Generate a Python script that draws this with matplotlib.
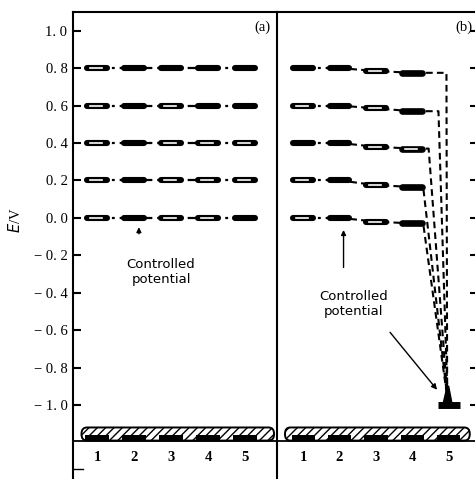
import matplotlib
matplotlib.use("Agg")
import matplotlib.pyplot as plt
from matplotlib.patches import FancyBboxPatch, Rectangle
import numpy as np

# ---- data ----
electrodes = [1, 2, 3, 4, 5]
levels = [0.8, 0.6, 0.4, 0.2, 0.0]
# panel (a): every electrode holds its level
a_values = [[v] * 5 for v in levels]
# panel (b): electrode 5 controlled at -1.0 V
b_e3 = [0.785, 0.585, 0.38, 0.175, -0.02]
b_e4 = [0.775, 0.57, 0.37, 0.165, -0.03]
b_e5 = [-1.0, -1.0, -1.0, -1.0, -1.0]
b_turn_x = [4.94, 4.72, 4.45, 4.3, 4.3]
b_end_x = [4.96, 4.97, 4.97, 4.97, 4.97]
b_end_y = [-0.97, -0.97, -0.97, -0.97, -0.97]
yticks = [1.0, 0.8, 0.6, 0.4, 0.2, 0.0, -0.2, -0.4, -0.6, -0.8, -1.0]
ytick_labels = ["1. 0", "0. 8", "0. 6", "0. 4", "0. 2", "0. 0",
                "\u2212 0. 2", "\u2212 0. 4", "\u2212 0. 6", "\u2212 0. 8", "\u2212 1. 0"]
hollow_a = [[1, 0, 0, 0, 0], [1, 0, 1, 0, 0], [1, 0, 1, 1, 1],
            [1, 0, 1, 1, 1], [1, 0, 1, 1, 0]]
hollow_b = [[0, 0, 1, 0], [1, 0, 1, 0], [0, 0, 1, 1], [1, 0, 1, 0], [1, 0, 1, 0]]

W, H = 475, 479
fig = plt.figure(figsize=(W / 100, H / 100), dpi=100)
serif = ["Liberation Serif", "DejaVu Serif"]

top_px, bot_px = 12, 478
ylo, yhi = -1.39, 1.10
ax1 = fig.add_axes([73 / W, 1 - bot_px / H, (277 - 73) / W, (bot_px - top_px) / H])
ax2 = fig.add_axes([277 / W, 1 - bot_px / H, (477 - 277) / W, (bot_px - top_px) / H])
ax1.set_xlim(0.35, 5.86)
ax2.set_xlim(0.28, 5.78)
base_y = -1.19
for ax in (ax1, ax2):
    ax.set_ylim(ylo, yhi)
    ax.set_xticks([])
    ax.spines["bottom"].set_visible(False)
    for s in ("left", "right", "top"):
        ax.spines[s].set_linewidth(1.5)
    ax.patch.set_alpha(0)

ax1.spines["right"].set_visible(False)
ax1.set_yticks(yticks)
ax1.set_yticklabels(ytick_labels, fontfamily=serif, fontsize=10.5)
ax1.tick_params(axis="y", direction="in", length=6, width=1.5, pad=4)
ax1.set_ylabel(r"$E$/V", fontfamily=serif, fontsize=10.5)
ax1.yaxis.set_label_coords(-0.245, 0.554)
ax1.plot([0, 0.05], [-1.342, -1.342], color="black", lw=1.0, transform=ax1.get_yaxis_transform())

ax2.set_yticks(yticks)
ax2.yaxis.tick_right()
ax2.tick_params(axis="y", direction="in", length=5, width=1.5, labelright=False)

bw = 0.27


def bar(ax, x, y, hollow, lw=4.4):
    ax.plot([x - bw, x + bw], [y, y], color="black", lw=lw, solid_capstyle="round", zorder=4)
    if hollow:
        ax.plot([x - bw * 0.7, x + bw * 0.5], [y, y], color="white", lw=1.2, zorder=5)


# panel (a)
for i, vals in enumerate(a_values):
    ax1.plot(electrodes, vals, color="black", lw=1.6, dashes=(4.5, 2.2, 1.3, 2.2), zorder=3)
    for j, (x, y) in enumerate(zip(electrodes, vals)):
        bar(ax1, x, y, hollow_a[i][j])

# panel (b)
for i, v in enumerate(levels):
    ax2.plot([1, 2], [v, v], color="black", lw=1.6, dashes=(4.5, 2.2, 1.3, 2.2), zorder=3)
    xs = [2, 3, 4, b_turn_x[i], b_end_x[i]]
    ys = [v, b_e3[i], b_e4[i], b_e4[i], b_end_y[i]]
    ax2.plot(xs, ys, color="black", lw=1.5, dashes=(3.2, 2.0), zorder=3)
    for j, (x, y) in enumerate(zip([1, 2, 3, 4], [v, v, b_e3[i], b_e4[i]])):
        bar(ax2, x, y, hollow_b[i][j], lw=4.8 if j == 3 else 4.4)
ax2.plot([5 - 0.3, 5 + 0.3], [b_e5[0], b_e5[0]], color="black", lw=5, solid_capstyle="butt", zorder=4)
ax2.fill([4.84, 5.1, 5.0, 4.96], [-1.0, -1.0, -0.9, -0.9], color="black", zorder=4)

# electrode strip
for ax, x0, x1 in ((ax1, 0.58, 5.78), (ax2, 0.5, 5.58)):
    ax.axhline(base_y, color="black", lw=1.3, zorder=2)
    strip = FancyBboxPatch((x0, base_y), x1 - x0, 0.07,
                           boxstyle="round,pad=0,rounding_size=0.15",
                           mutation_aspect=0.22,
                           facecolor="white", edgecolor="black", lw=1.4,
                           hatch="////", zorder=3)
    ax.add_patch(strip)
    for x in electrodes:
        ax.add_patch(Rectangle((x - 0.32, base_y), 0.64, 0.032, facecolor="black",
                               edgecolor="none", zorder=4))
        ax.text(x, -1.28, str(x), ha="center", va="center", fontfamily=serif,
                fontsize=10.5, fontweight="bold")

# labels and annotations
ax1.text(5.46, 1.02, "(a)", ha="center", va="center", fontfamily=serif, fontsize=10.5)
ax2.text(5.42, 1.02, "(b)", ha="center", va="center", fontfamily=serif, fontsize=10.5)

ax1.annotate("", xy=(2.13, -0.035), xytext=(2.13, -0.10),
             arrowprops=dict(arrowstyle="-|>", color="black", lw=1.0, mutation_scale=7))
ax1.text(2.73, -0.29, "Controlled\npotential", ha="center", va="center",
         fontfamily="DejaVu Sans", fontsize=9.5, linespacing=1.25)

ax2.annotate("", xy=(2.11, -0.05), xytext=(2.11, -0.28),
             arrowprops=dict(arrowstyle="-|>", color="black", lw=1.0, mutation_scale=7))
ax2.text(2.39, -0.46, "Controlled\npotential", ha="center", va="center",
         fontfamily="DejaVu Sans", fontsize=9.5, linespacing=1.25)
ax2.annotate("", xy=(4.73, -0.93), xytext=(3.34, -0.60),
             arrowprops=dict(arrowstyle="-|>", color="black", lw=1.0, mutation_scale=8))

fig.savefig("out.png", dpi=100)
